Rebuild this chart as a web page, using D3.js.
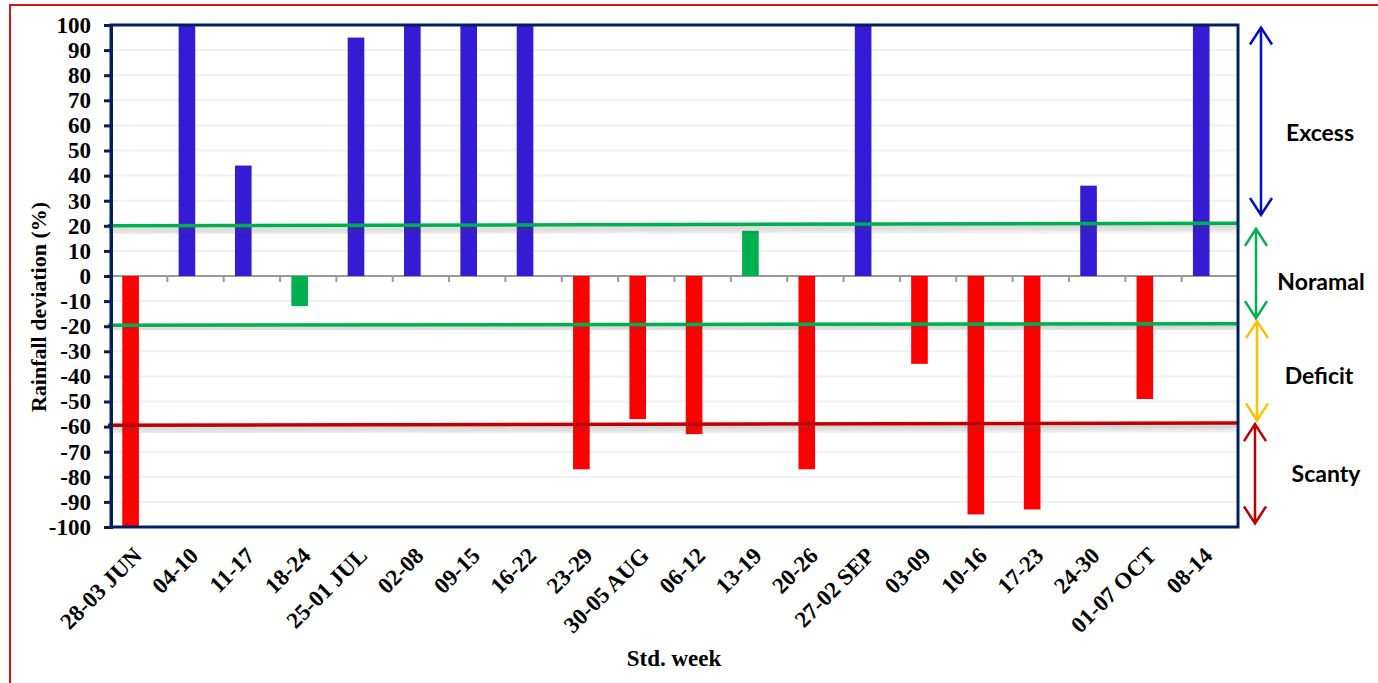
<!DOCTYPE html>
<html>
<head>
<meta charset="utf-8">
<script src="https://cdn.jsdelivr.net/npm/d3@7"></script>
<style>
  html, body { margin: 0; padding: 0; background: #fff; }
  svg { display: block; }
  .serif { font-family: "Liberation Serif", "Times New Roman", Tinos, "DejaVu Serif", serif; font-weight: bold; }
  .sans { font-family: Lato, "Open Sans", "Liberation Sans", sans-serif; font-weight: bold; }
</style>
</head>
<body>
<svg id="chart" width="1378" height="683"></svg>
<script>
// ---- data ----
const weeks = ["28-03 JUN","04-10","11-17","18-24","25-01 JUL","02-08","09-15","16-22","23-29","30-05 AUG",
               "06-12","13-19","20-26","27-02 SEP","03-09","10-16","17-23","24-30","01-07 OCT","08-14"];
const deviation = [-100,100,44,-12,95,100,100,100,-77,-57,-63,18,-77,100,-35,-95,-93,36,-49,100];
const yTicks = [100,90,80,70,60,50,40,30,20,10,0,-10,-20,-30,-40,-50,-60,-70,-80,-90,-100];
const thresholdStart = [20, -19.6, -59.5];
const thresholdEnd = [21, -19, -58.6];
const bandNames = ["Excess","Noramal","Deficit","Scanty"];
const bandTop = [99, 18.8, -18, -59];
const bandBottom = [24.3, -16.8, -57.5, -98.6];
const bandLabelValue = [57, -2.5, -40, -79];

// ---- layout ----
const svg = d3.select("#chart");
const L = 111, R = 1238, T = 25, B = 527;
const x = d3.scaleBand().domain(weeks).range([L, R]).paddingInner(0).paddingOuter(0);
const y = d3.scaleLinear().domain([-100, 100]).range([B, T]);

// outer red frame
svg.append("rect").attr("x", 10).attr("y", 5).attr("width", 1390).attr("height", 720)
   .attr("fill", "none").attr("stroke", "#cc1a1a").attr("stroke-width", 2);

// shadow filter
const defs = svg.append("defs");
const f = defs.append("filter").attr("id", "sh").attr("x", "-5%").attr("y", "-300%").attr("width", "110%").attr("height", "700%");
f.append("feDropShadow").attr("dx", 0).attr("dy", 4).attr("stdDeviation", 3)
 .attr("flood-color", "#444").attr("flood-opacity", 0.45);
defs.append("clipPath").attr("id", "plotclip").append("rect")
  .attr("x", L).attr("y", T).attr("width", R - L).attr("height", B - T);

// gridlines
svg.append("g").selectAll("line").data(yTicks.filter(d => d !== 0 && Math.abs(d) !== 100)).join("line")
  .attr("x1", L).attr("x2", R).attr("y1", d => y(d)).attr("y2", d => y(d))
  .attr("stroke", "#edf2f8").attr("stroke-width", 2);

// zero axis with category ticks
svg.append("line").attr("x1", L).attr("x2", R).attr("y1", y(0)).attr("y2", y(0))
  .attr("stroke", "#9a9a9a").attr("stroke-width", 2);
const bounds = weeks.map(w => x(w)).concat([R]);
svg.append("g").selectAll("line").data(bounds).join("line")
  .attr("x1", d => d).attr("x2", d => d).attr("y1", y(0)).attr("y2", y(0) + 6)
  .attr("stroke", "#9a9a9a").attr("stroke-width", 2);

// bars
const colorOf = v => v > 20 ? "#351bd3" : (v < -20 ? "#ff0000" : "#00b050");
const bw = x.bandwidth();
svg.append("g").attr("clip-path", "url(#plotclip)").selectAll("rect").data(weeks).join("rect")
  .attr("x", (d) => x(d) + bw * 0.2)
  .attr("width", bw * 0.295)
  .attr("y", (d, i) => y(Math.max(0, deviation[i])))
  .attr("height", (d, i) => Math.abs(y(deviation[i]) - y(0)))
  .attr("fill", (d, i) => colorOf(deviation[i]));

// threshold lines
const thColors = ["#00b050", "#00b050", "#c00000"];
svg.append("g").selectAll("line").data(thresholdStart).join("line")
  .attr("x1", L - 3).attr("x2", R)
  .attr("y1", d => y(d)).attr("y2", (d, i) => y(thresholdEnd[i]))
  .attr("stroke", (d, i) => thColors[i]).attr("stroke-width", 3.5)
  .attr("filter", "url(#sh)");

// frame
svg.append("rect").attr("x", L).attr("y", T).attr("width", R - L).attr("height", B - T)
  .attr("fill", "none").attr("stroke", "#002060").attr("stroke-width", 3);

// y axis
const yAxis = d3.axisLeft(y).tickValues(yTicks).tickSize(7).tickPadding(13)
  .tickFormat(d => String(d));
const ya = svg.append("g").attr("transform", `translate(${L},0)`).call(yAxis)
  .attr("font-family", null).attr("font-size", null);
ya.select(".domain").attr("stroke", "#002060").attr("stroke-width", 3);
ya.selectAll(".tick line").attr("stroke", "#002060").attr("stroke-width", 3);
ya.selectAll(".tick text").attr("class", "serif").style("font-size", "23px").attr("fill", "#000");

// x labels
svg.append("g").selectAll("text").data(weeks).join("text")
  .attr("class", "serif")
  .attr("transform", d => `translate(${x(d) + bw / 2 + 4},557) rotate(-45)`)
  .attr("text-anchor", "end")
  .style("font-size", "23px")
  .attr("fill", "#000").text(d => d);

// axis titles
svg.append("text").attr("class", "serif").attr("transform", "translate(46,307) rotate(-90)")
  .attr("text-anchor", "middle").style("font-size", "22px").text("Rainfall deviation (%)");
svg.append("text").attr("class", "serif").attr("x", 674).attr("y", 666).attr("text-anchor", "middle")
  .style("font-size", "23px").text("Std. week");

// category arrows on the right
const arrowColors = ["#0010c0", "#00b050", "#ffc000", "#c00000"];
const arrowX = [1261, 1256, 1257, 1255];
const labelX = [1320, 1321, 1319, 1326];
const ag = svg.append("g").attr("fill", "none").attr("stroke-width", 2.5);
bandNames.forEach((n, i) => {
  const y1 = y(bandTop[i]), y2 = y(bandBottom[i]), ax = arrowX[i];
  const p = `M${ax},${y1}L${ax},${y2}` +
            `M${ax - 11},${y1 + 17}L${ax},${y1}L${ax + 11},${y1 + 17}` +
            `M${ax - 11},${y2 - 17}L${ax},${y2}L${ax + 11},${y2 - 17}`;
  ag.append("path").attr("d", p).attr("stroke", arrowColors[i]).attr("stroke-linejoin", "miter");
  svg.append("text").attr("class", "sans").attr("x", labelX[i]).attr("y", y(bandLabelValue[i])).attr("dy", "0.35em")
    .attr("text-anchor", "middle").style("font-size", "23px").attr("fill", "#000").text(n);
});
</script>
</body>
</html>
